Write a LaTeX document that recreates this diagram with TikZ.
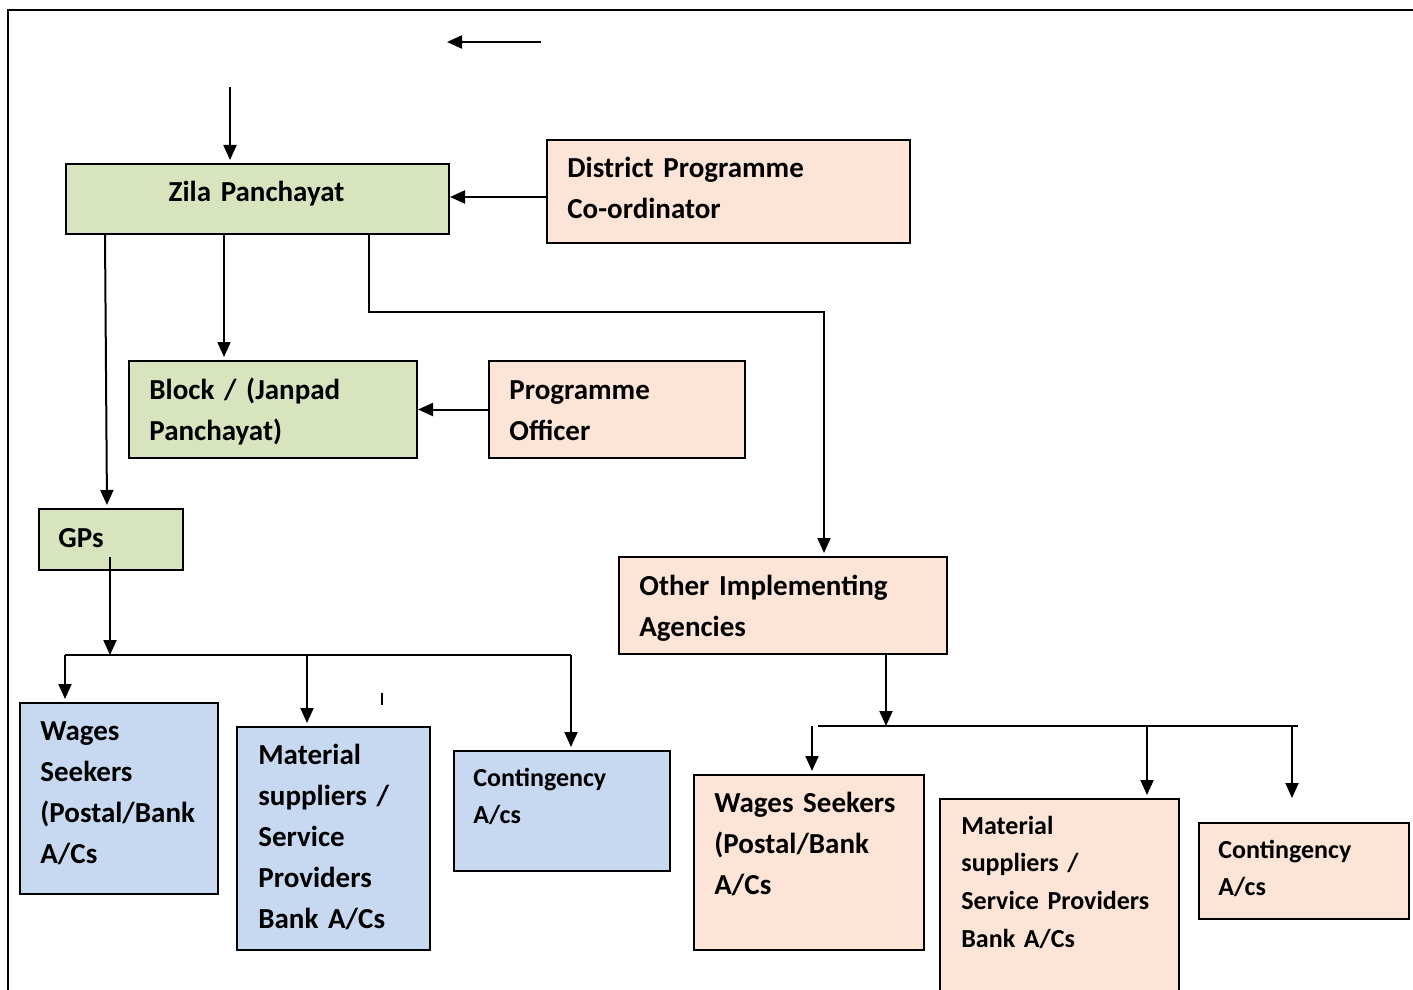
\documentclass[tikz,border=0pt]{standalone}
\usepackage{fontspec}
\setmainfont{Carlito}
\usetikzlibrary{arrows.meta, positioning, calc}
\definecolor{zpgreen}{HTML}{D7E4BD}
\definecolor{agpeach}{HTML}{FCE4D6}
\definecolor{acblue}{HTML}{C6D9F1}

\begin{document}
\begin{tikzpicture}[
			x=0.5pt, y=-0.5pt,
			>={Triangle[length=7.5pt, width=6.5pt]},
			box/.style={draw, line width=1pt, rectangle, anchor=north west, inner sep=0pt},
			greenbox/.style={box, fill=zpgreen},
			peachbox/.style={box, fill=agpeach},
			bluebox/.style={box, fill=acblue},
			txt/.style={anchor=base west, inner sep=0pt, align=left, text width=200pt, font=\bfseries\fontsize{14.5}{20.5}\selectfont},
			smalltxt/.style={txt, font=\bfseries\fontsize{13}{18.9}\selectfont},
			link/.style={->, line width=1pt, shorten >=1.5pt},
			line/.style={-, line width=1pt}
			]
			\clip (0,0) rectangle (1413,990);
			% --- frame ---
			\draw[line width=1.4pt] (8,1000) -- (8,10) -- (1420,10);
			
			% --- upper level ---
			\node[greenbox, minimum width=191.5pt, minimum height=35pt] (zp) at (65,163) {};
			\node[txt, anchor=base, align=center, text width=191.5pt] (zpT) at (256.5,201) {Zila Panchayat};
			\node[peachbox, minimum width=181.5pt, minimum height=51.5pt] (dpc) at (546,139) {};
			\node[txt] (dpcT) at (567,177) {District Programme\\Co-ordinator};
			\node[greenbox, minimum width=144pt, minimum height=48.5pt] (blk) at (128,360) {};
			\node[txt] (blkT) at (149,399) {Block / (Janpad\\Panchayat)};
			\node[peachbox, minimum width=128pt, minimum height=48.5pt] (po) at (488,360) {};
			\node[txt] (poT) at (509,399) {Programme\\Officer};
			\node[greenbox, minimum width=72pt, minimum height=30.5pt] (gp) at (38,508) {};
			\node[txt] (gpT) at (58,547) {GPs};
			\node[peachbox, minimum width=164pt, minimum height=48.5pt] (oia) at (618,556) {};
			\node[txt] (oiaT) at (639,595) {Other Implementing\\Agencies};
			
			% --- accounts under GPs ---
			\node[bluebox, minimum width=99pt, minimum height=95.5pt] (ws1) at (19,702) {};
			\node[txt] (ws1T) at (40,740) {Wages\\Seekers\\(Postal/Bank\\A/Cs};
			\node[bluebox, minimum width=96.5pt, minimum height=111.5pt] (ms1) at (236,726) {};
			\node[txt] (ms1T) at (258,764) {Material\\suppliers /\\Service\\Providers\\Bank A/Cs};
			\node[bluebox, minimum width=108pt, minimum height=60pt] (ct1) at (453,750) {};
			\node[smalltxt] (ct1T) at (473,786) {Contingency\\A/cs};
			
			% --- accounts under other agencies ---
			\node[peachbox, minimum width=115pt, minimum height=87.5pt] (ws2) at (693,774) {};
			\node[txt] (ws2T) at (714,812) {Wages Seekers\\(Postal/Bank\\A/Cs};
			\node[peachbox, minimum width=119.5pt, minimum height=101pt] (ms2) at (939,798) {};
			\node[smalltxt] (ms2T) at (961,834) {Material\\suppliers /\\Service Providers\\Bank A/Cs};
			\node[peachbox, minimum width=105pt, minimum height=48pt] (ct2) at (1198,822) {};
			\node[smalltxt] (ct2T) at (1218,858) {Contingency\\A/cs};
			
			% --- loose arrows ---
			\coordinate (topR) at (541,42);
			\coordinate (topL) at (447,42);
			\draw[link, shorten >=0pt] (topR) -- (topL);
			\coordinate (zpIn) at (230,87);
			\draw[link] (zpIn) -- (zpIn |- zp.north);
			
			% --- flow out of Zila Panchayat ---
			\coordinate (dpcOut) at ([yshift=-2.75pt]dpc.west);
			\draw[link, shorten >=0pt] (dpcOut) -- (dpcOut -| zp.east);
			\draw[link] ($(zp.south west)+(40,0)$) -- ($(gp.north west)+(69,0)$);
			\draw[link] ($(zp.south west)+(159,0)$) -- ($(blk.north west)+(96,0)$);
			\draw[link] ($(zp.south west)+(304,0)$) -- ++(0,77) -| ($(oia.north west)+(206,0)$);
			\draw[link, shorten >=0pt] (po.west) -- (blk.east);
			
			% --- GPs to accounts ---
			\coordinate (busL) at (65,655);
			\coordinate (busM) at (307,655);
			\coordinate (busR) at (571,655);
			\coordinate (gpOut) at ($(gp.north west)+(72,49)$);
			\draw[link, shorten >=0pt] (gpOut) -- (gpOut |- busL);
			\draw[line] (busL) -- (busR);
			\draw[link] (busL) -- (busL |- ws1.north);
			\draw[link] (busM) -- (busM |- ms1.north);
			\draw[link] (busR) -- (busR |- ct1.north);
			\coordinate (tickA) at (382,693);
			\coordinate (tickB) at (382,705);
			\draw[line width=0.6pt] (tickA) -- (tickB);
			
			% --- other agencies to accounts ---
			\coordinate (bus2L) at (818,726);
			\coordinate (bus2R) at (1298,726);
			\coordinate (oiaOut) at ($(oia.south west)+(268,0)$);
			\draw[link, shorten >=0pt] (oiaOut) -- (oiaOut |- bus2L);
			\draw[line] (bus2L) -- (bus2R);
			\coordinate (ws2In) at (812,726);
			\draw[link] (ws2In) -- (ws2In |- ws2.north);
			\coordinate (ms2In) at (1147,726);
			\draw[link] (ms2In) -- (ms2In |- ms2.north);
			\coordinate (ct2In) at (1292,726);
			\draw[link, shorten >=12pt] (ct2In) -- (ct2In |- ct2.north);
			
		\end{tikzpicture}
\end{document}
